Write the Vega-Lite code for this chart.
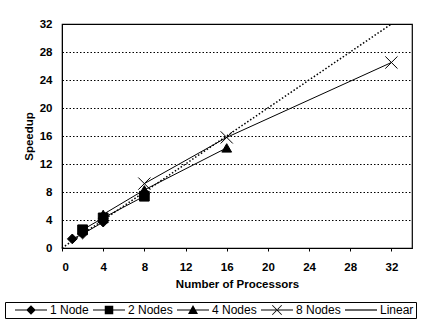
{
  "$schema": "https://vega.github.io/schema/vega-lite/v6.json",
  "autosize": {"type": "none"},
  "width": 350,
  "height": 224,
  "padding": {"left": 62, "top": 24, "right": 17, "bottom": 74},
  "background": "white",
  "config": {
    "font": "Liberation Sans",
    "view": {"stroke": "black", "strokeWidth": 1.2},
    "axis": {"labelFont": "Liberation Sans", "labelFontWeight": "bold", "labelFontSize": 11.5, "labelColor": "black", "titleFont": "Liberation Sans", "titleFontWeight": "bold", "titleFontSize": 11.5, "titleColor": "black", "domainColor": "black", "tickColor": "black"}
  },
  "data": {
    "values": [
      {"s": "1 Node", "x": 1, "y": 1.3},
      {"s": "1 Node", "x": 2, "y": 2.0},
      {"s": "1 Node", "x": 4, "y": 3.7},
      {"s": "2 Nodes", "x": 2, "y": 2.6},
      {"s": "2 Nodes", "x": 4, "y": 4.3},
      {"s": "2 Nodes", "x": 8, "y": 7.4},
      {"s": "4 Nodes", "x": 4, "y": 4.8},
      {"s": "4 Nodes", "x": 8, "y": 8.3},
      {"s": "4 Nodes", "x": 16, "y": 14.3},
      {"s": "8 Nodes", "x": 8, "y": 9.2},
      {"s": "8 Nodes", "x": 16, "y": 15.8},
      {"s": "8 Nodes", "x": 32, "y": 26.5},
      {"s": "Linear", "x": 0, "y": 0},
      {"s": "Linear", "x": 32, "y": 32}
    ]
  },
  "encoding": {
    "x": {"field": "x", "type": "quantitative", "scale": {"domain": [0, 34], "nice": false}, "axis": {"values": [0, 4, 8, 12, 16, 20, 24, 28, 32], "title": "Number of Processors", "grid": false, "tickSize": 3, "labelPadding": 10, "titlePadding": 6}},
    "y": {"field": "y", "type": "quantitative", "scale": {"domain": [0, 32], "nice": false}, "axis": {"values": [0, 4, 8, 12, 16, 20, 24, 28, 32], "title": "Speedup", "grid": true, "gridColor": "black", "gridDash": [1.5, 2], "gridWidth": 1, "ticks": false, "labelPadding": 10, "titlePadding": 5}}
  },
  "layer": [
    {
      "transform": [{"filter": "datum.s == 'Linear'"}],
      "mark": {"type": "line", "color": "black", "strokeWidth": 1.5, "strokeDash": [1.5, 2]},
      "encoding": {}
    },
    {
      "transform": [{"filter": "datum.s != 'Linear'"}],
      "mark": {"type": "line", "color": "black", "strokeWidth": 1},
      "encoding": {"detail": {"field": "s"}}
    },
    {
      "transform": [{"filter": "datum.s != 'Linear'"}],
      "mark": {"type": "point", "filled": true, "fill": "black", "stroke": "black", "strokeWidth": 1, "opacity": 1, "size": 95},
      "encoding": {
        "shape": {"field": "s", "type": "nominal", "scale": {"domain": ["1 Node", "2 Nodes", "4 Nodes", "8 Nodes"], "range": ["diamond", "square", "triangle-up", "M-1.25,-1.25L1.25,1.25M-1.25,1.25L1.25,-1.25"]}, "legend": null}
      }
    },
    {
      "mark": {"type": "point", "filled": true, "color": "black", "fill": "black", "stroke": "black", "opacity": 0, "size": 0, "strokeWidth": 1.2},
      "encoding": {
        "shape": {
          "field": "s", "type": "nominal",
          "scale": {"domain": ["1 Node", "2 Nodes", "4 Nodes", "8 Nodes", "Linear"], "range": [
            "M-3.2,-0.12L3.2,-0.12L3.2,0.12L-3.2,0.12ZM0,-0.95L0.95,0L0,0.95L-0.95,0Z",
            "M-3.2,-0.12L3.2,-0.12L3.2,0.12L-3.2,0.12ZM-0.85,-0.85L0.85,-0.85L0.85,0.85L-0.85,0.85Z",
            "M-3.2,-0.12L3.2,-0.12L3.2,0.12L-3.2,0.12ZM0,-1L1,0.8L-1,0.8Z",
            "M-3.2,-0.12L3.2,-0.12L3.2,0.12L-3.2,0.12ZM-1,-0.88L-0.88,-1L1,0.88L0.88,1ZM-1,0.88L-0.88,1L1,-0.88L0.88,-1Z",
            "M-3.2,-0.12L3.2,-0.12L3.2,0.12L-3.2,0.12Z"]},
          "legend": {
            "title": null, "orient": "none", "legendX": -57, "legendY": 278, "direction": "horizontal", "columns": 5, "gridAlign": "none",
            "symbolSize": 100, "symbolOffset": 18, "symbolOpacity": 1, "symbolFillColor": "black", "symbolStrokeColor": "black", "symbolStrokeWidth": 0,
            "labelFont": "Liberation Sans", "labelFontSize": 12, "labelColor": "black", "labelOffset": 13,
            "columnPadding": -4, "padding": 2, "strokeColor": "black", "fillColor": "white",
            "encode": {"symbols": {"update": {"opacity": {"value": 1}, "fill": {"value": "black"}, "stroke": {"value": "black"}, "strokeWidth": {"value": 0.3}}}}
          }
        }
      }
    }
  ],
  "resolve": {"scale": {"shape": "independent"}, "legend": {"shape": "independent"}}
}
